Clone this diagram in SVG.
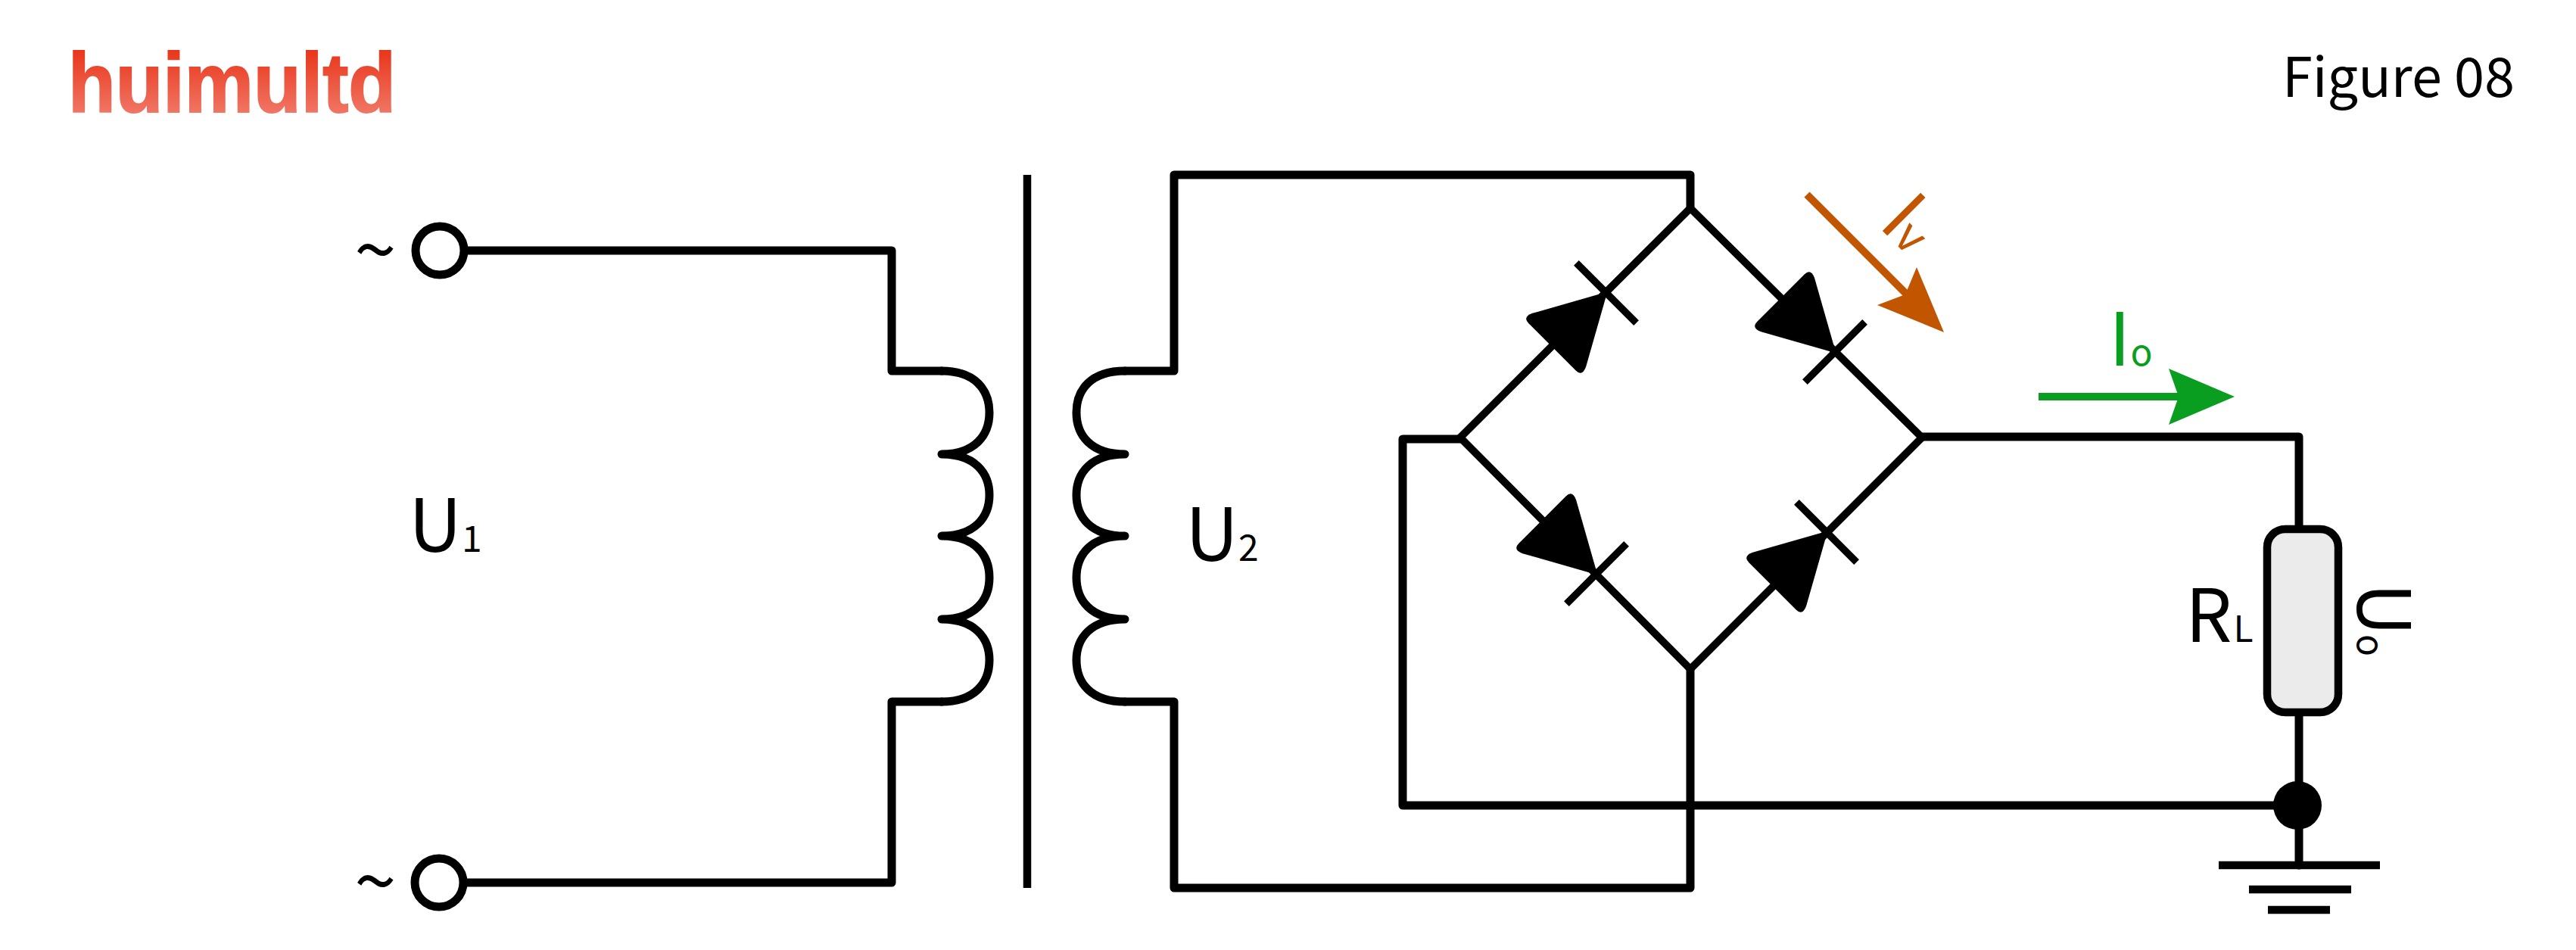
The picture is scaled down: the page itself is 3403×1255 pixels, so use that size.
<svg xmlns="http://www.w3.org/2000/svg" width="3403" height="1255" viewBox="0 0 3403 1255">
<defs>
<linearGradient id="logoGrad" gradientUnits="userSpaceOnUse" x1="0" y1="65" x2="0" y2="148"><stop offset="0" stop-color="#e9351a"/><stop offset="1" stop-color="#f07563"/></linearGradient>
<path id="diodeHead" d="M2,0 L-88,-50 Q-101,-56 -101,-44 L-101,44 Q-101,56 -88,50 Z" fill="#000"/>
<g id="diode"><use href="#diodeHead"/><line x1="0" y1="-56" x2="0" y2="56" class="bar"/></g>
</defs>
<style>
.wire{fill:none;stroke:#000;stroke-width:11;stroke-linejoin:round;stroke-linecap:round}
.diag{fill:none;stroke:#000;stroke-width:10;stroke-linejoin:miter;stroke-linecap:butt}
.bar{stroke:#000;stroke-width:9.5;fill:none}
.lbl{font-family:"Noto Sans CJK SC","Noto Sans",sans-serif;font-size:97px;fill:#000}
.sub{font-size:48px}
.gnd{stroke:#000;stroke-width:10.5;fill:none}
.term{fill:#fff;stroke:#000;stroke-width:11}
.tilde{font-size:100px}
</style>
<rect width="3403" height="1255" fill="#fff"/>
<g id="logo"><text x="90" y="148" font-family="'Liberation Sans',sans-serif" font-weight="700" font-size="112" textLength="433" lengthAdjust="spacingAndGlyphs" fill="url(#logoGrad)" stroke="url(#logoGrad)" stroke-width="2">huimultd</text></g>
<g id="title"><text class="lbl" x="3015" y="128" style="font-size:72px">Figure 08</text></g>
<g id="connectors">
<path class="wire" d="M617,331 H1178 V490 H1244"/>
<path class="wire" d="M617,1166 H1178 V927 H1244"/>
<path class="wire" d="M1486,490 H1551 V231 H2233 V275"/>
<path class="wire" d="M1486,927 H1551 V1173 H2233 V884"/>
<path class="diag" d="M2233,275 L2539,578 L2233,884 L1929,578 Z"/>
<path class="wire" d="M2539,577 H3037 V699"/>
<path class="wire" d="M3037,941 V1143"/>
<path class="wire" d="M1929,580 H1853 V1064 H3035"/>
</g>
<g id="terminal-top"><circle class="term" cx="581" cy="331" r="32"/><text class="lbl tilde" x="468" y="367">~</text></g>
<g id="terminal-bottom"><circle class="term" cx="580" cy="1166" r="32"/><text class="lbl tilde" x="468" y="1201">~</text></g>
<g id="primary-coil"><path class="wire" d="M1244,490 C1288,490 1307,515 1307,545 C1307,575 1288,600 1244,600 C1288,600 1307,625 1307,654 C1307,683 1288,708 1244,708 C1288,708 1307,733 1307,763 C1307,793 1288,818 1244,818 C1288,818 1307,843 1307,872 C1307,902 1288,927 1244,927"/></g>
<g id="core"><line x1="1357" y1="231" x2="1357" y2="1173" stroke="#000" stroke-width="10.5"/></g>
<g id="secondary-coil"><path class="wire" d="M1486,490 C1441,490 1422,515 1422,545 C1422,575 1441,600 1486,600 C1441,600 1422,625 1422,654 C1422,683 1441,708 1486,708 C1441,708 1422,733 1422,763 C1422,793 1441,818 1486,818 C1441,818 1422,843 1422,872 C1422,902 1441,927 1486,927"/></g>
<g id="diode-tl"><use href="#diode" transform="translate(2122,387) rotate(-45)"/></g>
<g id="diode-tr"><use href="#diode" transform="translate(2424,465) rotate(45)"/></g>
<g id="diode-bl"><use href="#diode" transform="translate(2109,758) rotate(45)"/></g>
<g id="diode-br"><use href="#diode" transform="translate(2413,703) rotate(-45)"/></g>
<g id="resistor"><rect x="2995" y="699" width="94" height="242" rx="24" fill="#ebebeb" stroke="#000" stroke-width="10.5"/></g>
<g id="junction"><circle cx="3035" cy="1064" r="32" fill="#000"/></g>
<g id="ground"><line class="gnd" x1="2931" y1="1143" x2="3144" y2="1143"/><line class="gnd" x1="2971" y1="1175" x2="3106" y2="1175"/><line class="gnd" x1="2996" y1="1202" x2="3078" y2="1202"/></g>
<g id="label-u1"><text class="lbl" x="540" y="729">U<tspan class="sub">1</tspan></text></g>
<g id="label-u2"><text class="lbl" x="1566" y="741">U<tspan class="sub">2</tspan></text></g>
<g id="label-rl"><text class="lbl" x="2887" y="848">R<tspan class="sub" dx="2">L</tspan></text></g>
<g id="label-uo"><text class="lbl" transform="translate(3114,770) rotate(90)">U<tspan class="sub" dx="-2">o</tspan></text></g>
<g id="arrow-iv" fill="#c25500"><line x1="2387" y1="257" x2="2520" y2="390" stroke="#c25500" stroke-width="10"/><polygon points="2568,439 2532,353 2517,389 2480,403"/><text class="lbl" transform="translate(2480,298) rotate(45)" style="fill:#c25500">I<tspan style="font-size:60px" dx="-2">v</tspan></text></g>
<g id="arrow-io" fill="#0a9e20"><line x1="2693" y1="524" x2="2880" y2="524" stroke="#0a9e20" stroke-width="10"/><polygon points="2952,524 2865,487 2878,524 2865,561"/><text class="lbl" x="2786" y="483" style="fill:#0a9e20">I<tspan class="sub">o</tspan></text></g>
</svg>
